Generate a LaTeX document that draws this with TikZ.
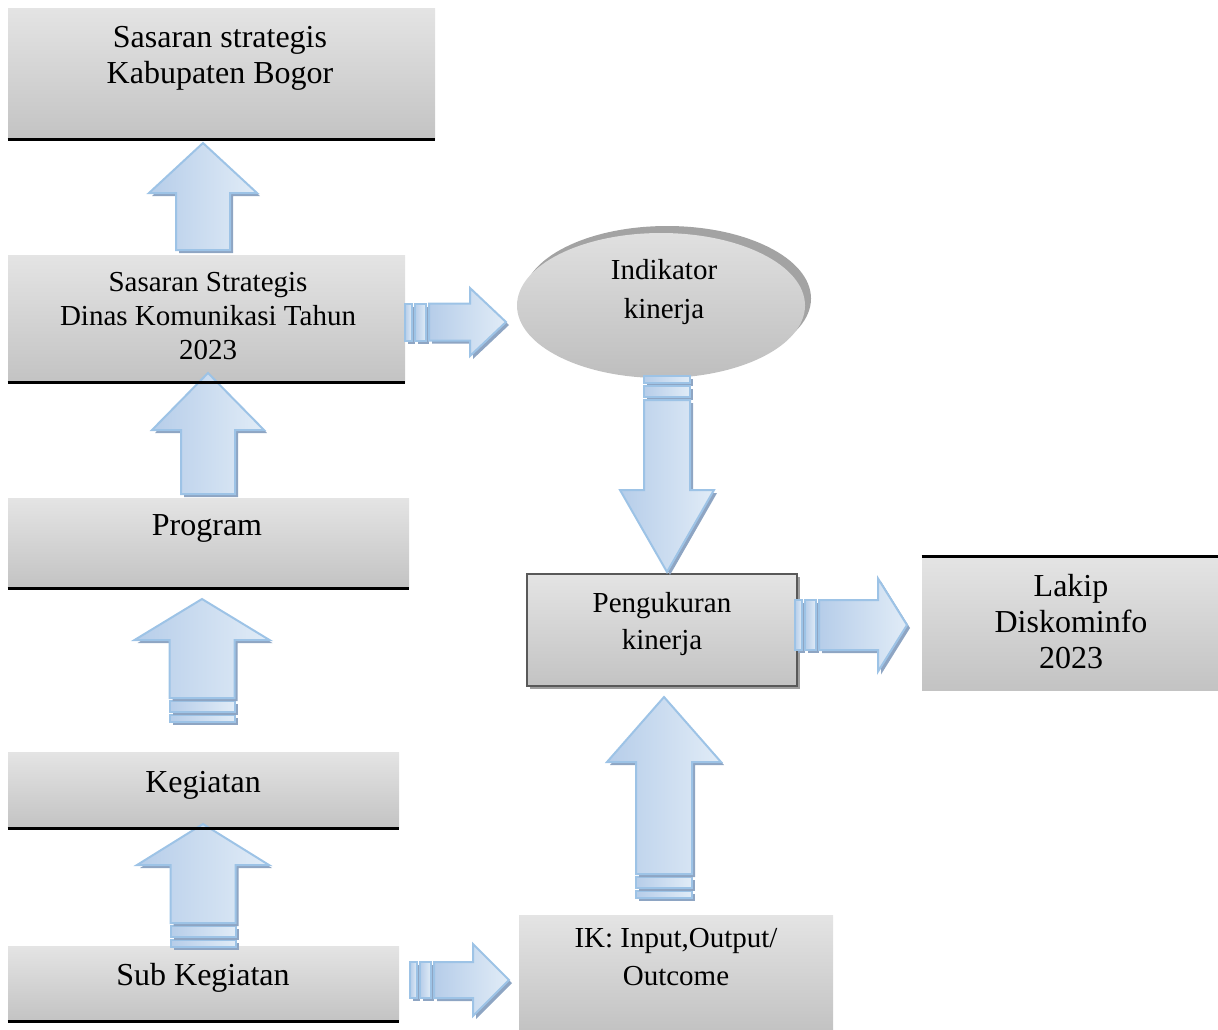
\documentclass[tikz,border=0pt]{standalone}
\usepackage{fontspec}
\setmainfont{Liberation Serif}
\usetikzlibrary{shapes.geometric,shadows}

\definecolor{boxtop}{HTML}{E4E4E4}
\definecolor{boxbottom}{HTML}{C3C3C3}
\definecolor{ovaltop}{HTML}{E0E0E0}
\definecolor{ovalbottom}{HTML}{BEBEBE}
\definecolor{ovalshadow}{HTML}{A3A3A3}
\definecolor{arrowlight}{HTML}{E1ECF7}
\definecolor{arrowdark}{HTML}{B6CDE9}
\definecolor{arrowline}{HTML}{9DC3E6}
\definecolor{arrowshadow}{HTML}{8EA5C3}
\definecolor{frameline}{HTML}{595959}

\tikzset{
  greybox/.style={rectangle, inner sep=0pt, top color=boxtop, bottom color=boxbottom},
  boxtext/.style={anchor=base, align=center, inner sep=0pt, font=\fontsize{16}{18}\selectfont},
  smalltext/.style={anchor=base, align=center, inner sep=0pt, font=\fontsize{14.5}{#1}\selectfont},
  rule/.style={line width=1.5pt, black},
  arrowbody/.style={draw=arrowline, line width=1pt, left color=arrowdark, right color=arrowlight,
    drop shadow={shadow xshift=1.5pt, shadow yshift=-1.5pt, fill=arrowshadow, opacity=1}},
  pics/bluearrow/.style n args={4}{code={
    \path[arrowbody] (0,-#2/2) -- (#1-#4,-#2/2) -- (#1-#4,-#3/2) -- (#1,0)
      -- (#1-#4,#3/2) -- (#1-#4,#2/2) -- (0,#2/2) -- cycle;
  }},
  pics/stripedarrow/.style n args={4}{code={
    \path[arrowbody] (0,-#2/2) rectangle (7,#2/2);
    \path[arrowbody] (10,-#2/2) rectangle (21,#2/2);
    \path[arrowbody] (24,-#2/2) -- (#1-#4,-#2/2) -- (#1-#4,-#3/2) -- (#1,0)
      -- (#1-#4,#3/2) -- (#1-#4,#2/2) -- (24,#2/2) -- cycle;
  }},
}

\begin{document}
\begin{tikzpicture}[x=0.5pt, y=-0.5pt]
    \useasboundingbox (0,0) rectangle (1218,1029);

    \node[greybox, minimum width=213.5pt, minimum height=65.5pt] (kab) at (221.5,73.5) {};
    \node[greybox, minimum width=198.5pt, minimum height=63.5pt] (dinas) at (206.5,318.5) {};
    \node[greybox, minimum width=200.5pt, minimum height=45pt] (prog) at (208.5,543) {};
    \node[greybox, minimum width=195.5pt, minimum height=38pt] (keg) at (203.5,790) {};
    \node[greybox, minimum width=195.5pt, minimum height=37.5pt] (subkeg) at (203.5,983.5) {};
    \node[greybox, minimum width=148pt, minimum height=66.5pt] (lakip) at (1070,623.5) {};
    \node[greybox, minimum width=157pt, minimum height=57pt] (ik) at (676,972) {};
    \node[greybox, draw=frameline, line width=1pt, minimum width=135pt, minimum height=56pt,
        drop shadow={shadow xshift=1.5pt, shadow yshift=-1.5pt, fill=gray!75, opacity=1}] (ukur) at (662,630) {};
    \node[ellipse, inner sep=0pt, top color=ovaltop, bottom color=ovalbottom, minimum width=144pt,
        minimum height=72.5pt, drop shadow={shadow xshift=3pt, shadow yshift=3.5pt, fill=ovalshadow, opacity=1}]
        (indik) at (661,305.5) {};

    \pic[rotate=90] (upA) at (203,250) {bluearrow={107}{54}{108}{50}};
    \pic[rotate=90] (upB) at (208,494) {bluearrow={121}{54}{112}{57}};
    \pic[rotate=90] (upC) at (202,722) {stripedarrow={123}{65}{135}{41}};
    \pic[rotate=90] (upD) at (203,947) {stripedarrow={123}{65}{132}{41}};
    \pic (rightA) at (405,322) {stripedarrow={101}{37}{68}{36}};
    \pic[rotate=-90] (downA) at (667,376) {stripedarrow={196}{46}{94}{82}};
    \pic (rightB) at (795,625) {stripedarrow={112}{50}{93}{29}};
    \pic[rotate=90] (upE) at (664,898) {stripedarrow={201}{56}{114}{65}};
    \pic (rightC) at (410,980) {stripedarrow={99}{36}{72}{36}};

    \draw[rule] (kab.south west) -- (kab.south east);
    \draw[rule] (dinas.south west) -- (dinas.south east);
    \draw[rule] (prog.south west) -- (prog.south east);
    \draw[rule] (keg.south west) -- (keg.south east);
    \draw[rule] (subkeg.south west) -- (subkeg.south east);
    \draw[rule] (lakip.north west) -- (lakip.north east);

    \node[boxtext] (kabtxt) at (220,83) {Sasaran strategis\\Kabupaten Bogor};
    \node[smalltext=16.8] (dinastxt) at (208,359) {Sasaran Strategis\\Dinas Komunikasi Tahun\\2023};
    \node[boxtext] (progtxt) at (207,535) {Program};
    \node[boxtext] (kegtxt) at (203,792) {Kegiatan};
    \node[boxtext] (subkegtxt) at (203,985) {Sub Kegiatan};
    \node[smalltext=19.5] (indiktxt) at (664,318) {Indikator\\kinerja};
    \node[smalltext=18.5] (ukurtxt) at (662,649) {Pengukuran\\kinerja};
    \node[boxtext] (lakiptxt) at (1071,668) {Lakip\\Diskominfo\\2023};
    \node[smalltext=19] (iktxt) at (676,985) {IK: Input,Output/\\Outcome};
\end{tikzpicture}
\end{document}
